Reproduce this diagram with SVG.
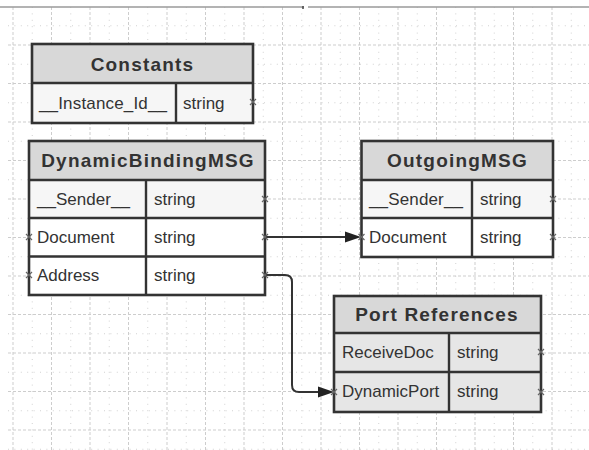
<svg xmlns="http://www.w3.org/2000/svg" width="589" height="450" viewBox="0 0 589 450">
<style>
.gmaj{stroke:#cdcdcd;stroke-width:1;stroke-dasharray:3 2;fill:none}
.gmin{stroke:#d2d2d2;stroke-width:1;stroke-dasharray:1 5.4;fill:none}
.hdr{fill:#d8d8d8}
.rowl{fill:#f6f6f6}
.roww{fill:#ffffff}
.rowg{fill:#e6e6e6}
.bd{fill:none;stroke:#333;stroke-width:2.6}
.dv{stroke:#333;stroke-width:2.4;fill:none}
.title{font-family:"Liberation Sans",Arial,sans-serif;font-weight:bold;font-size:19px;letter-spacing:1.2px;fill:#333;text-anchor:middle}
.cell{font-family:"Liberation Sans",Arial,sans-serif;font-size:17px;fill:#333}
.conn{fill:none;stroke:#333;stroke-width:2}
.xm{fill:none;stroke:#666;stroke-width:1.2}
</style>
<defs>
<marker id="arr" markerUnits="userSpaceOnUse" markerWidth="18" markerHeight="14" viewBox="0 -7 18 14" refX="0" refY="0" orient="auto">
<path d="M0,-5.5 L16,0 L0,5.5 Z" fill="#222"/>
</marker>
<path id="x" d="M-3,-3 L3,3 M-3,3 L3,-3"/>
</defs>
<rect width="589" height="450" fill="#fff"/>
<g id="grid">
<path class="gmin" d="M32.25,7V450M70.75,7V450M109.25,7V450M147.75,7V450M186.25,7V450M224.75,7V450M263.25,7V450M301.75,7V450M340.25,7V450M378.75,7V450M417.25,7V450M455.75,7V450M494.25,7V450M532.75,7V450M571.25,7V450"/>
<path class="gmin" d="M8,25.75H589M8,64.25H589M8,102.75H589M8,141.25H589M8,179.75H589M8,218.25H589M8,256.75H589M8,295.25H589M8,333.75H589M8,372.25H589M8,410.75H589M8,449.25H589"/>
<path class="gmaj" d="M13,7V450M51.5,7V450M90,7V450M128.5,7V450M167,7V450M205.5,7V450M244,7V450M282.5,7V450M321,7V450M359.5,7V450M398,7V450M436.5,7V450M475,7V450M513.5,7V450M552,7V450"/>
<path class="gmaj" d="M8,45H589M8,83.5H589M8,122H589M8,160.5H589M8,199H589M8,237.5H589M8,276H589M8,314.5H589M8,353H589M8,391.5H589M8,430H589"/>
<path d="M0,7H304M308,7H589" stroke="#9a9a9a" stroke-width="1.5" fill="none"/>
<path d="M303,6V9" stroke="#444" stroke-width="1.5"/>
</g>
<g id="connectors">
<path class="conn" d="M265,237H345" marker-end="url(#arr)"/>
<path class="conn" d="M265,275H285Q292,275 292,282V385Q292,392 299,392H318" marker-end="url(#arr)"/>
</g>
<g id="constants">
<rect class="hdr" x="32" y="44" width="221" height="39"/>
<rect class="rowl" x="32" y="83" width="221" height="40"/>
<path class="dv" d="M32,83H253M176,83V123"/>
<rect class="bd" x="32" y="44" width="221" height="79"/>
<text class="title" x="142.5" y="70.5">Constants</text>
<text class="cell" x="39" y="109" textLength="128">__Instance_Id__</text>
<text class="cell" x="183" y="109">string</text>
<use href="#x" class="xm" x="253" y="102"/>
</g>
<g id="dynamicbindingmsg">
<rect class="hdr" x="29" y="141" width="236" height="39"/>
<rect class="rowl" x="29" y="180" width="236" height="38"/>
<rect class="roww" x="29" y="218" width="236" height="77"/>
<path class="dv" d="M29,180H265M29,218H265M29,256.5H265M146,180V295"/>
<rect class="bd" x="29" y="141" width="236" height="154"/>
<text class="title" x="148" y="167">DynamicBindingMSG</text>
<text class="cell" x="37" y="205" textLength="93">__Sender__</text>
<text class="cell" x="154" y="205">string</text>
<text class="cell" x="37" y="243">Document</text>
<text class="cell" x="154" y="243">string</text>
<text class="cell" x="37" y="281">Address</text>
<text class="cell" x="154" y="281">string</text>
<use href="#x" class="xm" x="265" y="199"/>
<use href="#x" class="xm" x="29" y="237"/>
<use href="#x" class="xm" x="265" y="237"/>
<use href="#x" class="xm" x="29" y="275"/>
<use href="#x" class="xm" x="265" y="275"/>
</g>
<g id="outgoingmsg">
<rect class="hdr" x="361.5" y="141" width="191.5" height="39"/>
<rect class="rowl" x="361.5" y="180" width="191.5" height="38"/>
<rect class="roww" x="361.5" y="218" width="191.5" height="39"/>
<path class="dv" d="M361.5,180H553M361.5,218H553M472,180V257"/>
<rect class="bd" x="361.5" y="141" width="191.5" height="116"/>
<text class="title" x="457.5" y="167">OutgoingMSG</text>
<text class="cell" x="369" y="205" textLength="94">__Sender__</text>
<text class="cell" x="480" y="205">string</text>
<text class="cell" x="369" y="243">Document</text>
<text class="cell" x="480" y="243">string</text>
<use href="#x" class="xm" x="553" y="199"/>
<use href="#x" class="xm" x="361.5" y="237"/>
<use href="#x" class="xm" x="553" y="237"/>
</g>
<g id="portreferences">
<rect class="hdr" x="334" y="296" width="207" height="37"/>
<rect class="rowg" x="334" y="333" width="207" height="79"/>
<path class="dv" d="M334,333H541M334,372H541M449,333V412"/>
<rect class="bd" x="334" y="296" width="207" height="116"/>
<text class="title" x="437" y="321">Port References</text>
<text class="cell" x="342" y="358">ReceiveDoc</text>
<text class="cell" x="457" y="358">string</text>
<text class="cell" x="342" y="397">DynamicPort</text>
<text class="cell" x="457" y="397">string</text>
<use href="#x" class="xm" x="541" y="352"/>
<use href="#x" class="xm" x="334" y="392"/>
<use href="#x" class="xm" x="541" y="392"/>
</g>
</svg>
